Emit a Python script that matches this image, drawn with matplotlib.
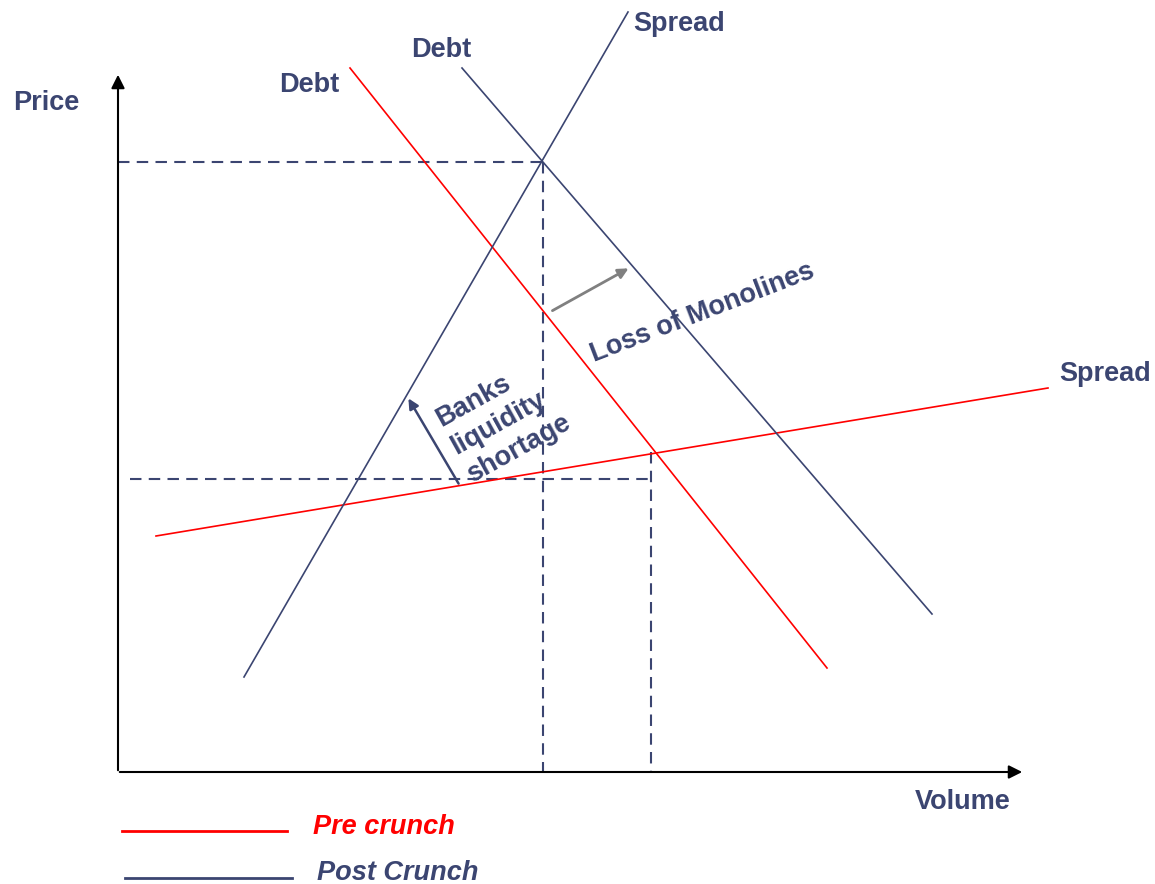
import matplotlib.pyplot as plt

# 線の端点（画像のピクセル座標）
pre_debt_x = [350, 827]
pre_debt_y = [68, 668]
pre_spread_x = [156, 1048]
pre_spread_y = [536, 388]
post_debt_x = [462, 932]
post_debt_y = [68, 614]
post_spread_x = [244, 628]
post_spread_y = [677, 12]

# 補助の破線
dash_h_x = [[118, 543], [130, 651]]
dash_h_y = [[162, 162], [479, 479]]
dash_v_x = [[543, 543], [651, 651]]
dash_v_y = [[162, 772], [452, 772]]

red = '#FF0000'
navy = '#3B4571'
gray = '#808080'

plt.rcParams['font.family'] = ['Liberation Sans', 'DejaVu Sans']

fig = plt.figure(figsize=(11.55, 8.84), dpi=100)
ax = fig.add_axes([0, 0, 1, 1])
ax.set_xlim(0, 1155)
ax.set_ylim(884, 0)
ax.axis('off')

# 軸
ax.annotate('', xy=(118, 72), xytext=(118, 773),
            arrowprops=dict(arrowstyle='-|>', color='black', lw=1.5, mutation_scale=20))
ax.annotate('', xy=(1025, 772), xytext=(117, 772),
            arrowprops=dict(arrowstyle='-|>', color='black', lw=1.5, mutation_scale=20))

# 破線
for xs, ys in zip(dash_h_x + dash_v_x, dash_h_y + dash_v_y):
    ax.plot(xs, ys, color=navy, lw=1.5, dashes=(5.5, 3.5))

# 需給曲線
ax.plot(pre_debt_x, pre_debt_y, color=red, lw=1.2)
ax.plot(pre_spread_x, pre_spread_y, color=red, lw=1.2)
ax.plot(post_debt_x, post_debt_y, color=navy, lw=1.2)
ax.plot(post_spread_x, post_spread_y, color=navy, lw=1.2)

# シフトの矢印
ax.annotate('', xy=(631, 267), xytext=(550, 312),
            arrowprops=dict(arrowstyle='-|>', color=gray, lw=2, mutation_scale=15))
ax.annotate('', xy=(407, 396), xytext=(460, 486),
            arrowprops=dict(arrowstyle='-|>', color=navy, lw=1.8, mutation_scale=15))

fs = 19.5
kw = dict(color=navy, fontsize=fs, fontweight='bold')
ax.text(679, 24, 'Spread', ha='center', va='center', **kw)
ax.text(441, 50, 'Debt', ha='center', va='center', **kw)
ax.text(309, 85, 'Debt', ha='center', va='center', **kw)
ax.text(1105, 374, 'Spread', ha='center', va='center', **kw)
ax.text(46, 103, 'Price', ha='center', va='center', **kw)
ax.text(963, 802, 'Volume', ha='center', va='center', **kw)

ax.text(702, 313, 'Loss of Monolines', ha='center', va='center', rotation=21,
        rotation_mode='anchor', **kw)
ax.text(503, 421, 'Banks\nliquidity\nshortage', ha='center', va='center', rotation=29,
        rotation_mode='anchor', multialignment='left', linespacing=1.3, **kw)

# 凡例
ax.plot([122, 287], [831, 831], color=red, lw=2)
ax.text(313, 827, 'Pre crunch', color=red, fontsize=fs, fontweight='bold',
        fontstyle='italic', ha='left', va='center')
ax.plot([125, 292], [878, 878], color=navy, lw=2)
ax.text(317, 873, 'Post Crunch', color=navy, fontsize=fs, fontweight='bold',
        fontstyle='italic', ha='left', va='center')

fig.savefig('out.png', dpi=100)
